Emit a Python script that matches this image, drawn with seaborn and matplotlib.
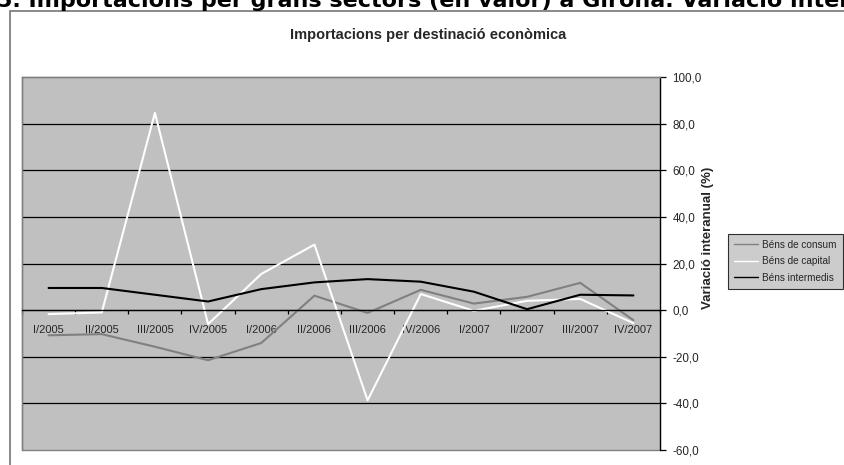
import pandas as pd
import numpy as np
import matplotlib
matplotlib.use("Agg")
import matplotlib.pyplot as plt
from matplotlib.patches import Rectangle
from matplotlib.ticker import FuncFormatter
import seaborn as sns

# values (variacio interanual, %)
quarters = ["I/2005", "II/2005", "III/2005", "IV/2005",
            "I/2006", "II/2006", "III/2006", "IV/2006",
            "I/2007", "II/2007", "III/2007", "IV/2007"]
bens_consum = [-10.8, -10.3, -15.7, -21.5, -14.1, 6.2, -1.2, 8.7, 2.8, 5.7, 11.7, -4.3]
bens_capital = [-1.7, -1.0, 84.6, -6.0, 15.5, 28.1, -38.7, 6.9, -0.3, 4.0, 4.8, -5.6]
bens_intermedis = [9.5, 9.5, 6.6, 3.7, 9.0, 11.9, 13.3, 12.2, 7.9, 0.4, 6.6, 6.3]
series_names = ["Béns de consum", "Béns de capital", "Béns intermedis"]
y_ticks = [-60, -40, -20, 0, 20, 40, 60, 80, 100]

sns.set_theme(style="white")
plt.rcParams["font.family"] = ["Liberation Sans", "DejaVu Sans"]

# long-form table for seaborn
rows = []
for name, vals in zip(series_names, [bens_consum, bens_capital, bens_intermedis]):
    for i, v in enumerate(vals):
        rows.append({"pos": i, "trimestre": quarters[i], "serie": name, "valor": v})
df = pd.DataFrame(rows)

palette = {"Béns de consum": "#808080",
           "Béns de capital": "#ffffff",
           "Béns intermedis": "#000000"}

W, H = 845, 465
fig = plt.figure(figsize=(W / 100, H / 100), dpi=100)
fig.patch.set_facecolor("white")

# outer chart frame (runs past the right and bottom edges)
fig.add_artist(Rectangle((10 / W, -0.05), 1.0, 1 - 11 / H + 0.05,
                         transform=fig.transFigure, fill=False,
                         edgecolor="#808080", linewidth=1.3))

# page heading, cut off at the top like in the source page
fig.text(-3 / W, 1 - 7 / H,
         "5. Importacions per grans sectors (en valor) a Girona. Variació interanual",
         fontsize=16, fontweight="bold", family="DejaVu Sans",
         ha="left", va="baseline", color="black")

fig.text(428 / W, 1 - 35 / H, "Importacions per destinació econòmica",
         fontsize=10.5, fontweight="bold", ha="center", va="center")

ax = fig.add_axes([22 / W, 1 - 450 / H, (660 - 22) / W, (450 - 77) / H])
ax.set_facecolor("#c0c0c0")

sns.lineplot(data=df, x="pos", y="valor", hue="serie", palette=palette,
             hue_order=series_names, sort=False, linewidth=1.5, ax=ax)

ax.set_xlim(-0.5, len(quarters) - 0.5)
ax.set_ylim(-60, 100)

# y axis on the right
ax.yaxis.tick_right()
ax.set_yticks(y_ticks)
ax.yaxis.set_major_formatter(FuncFormatter(lambda v, p: f"{v:.1f}".replace(".", ",")))
ax.tick_params(axis="y", which="major", direction="out", length=4, width=0.9,
               color="black", labelsize=8.4, pad=5, right=True, left=False)
ax.grid(axis="y", color="black", linewidth=0.9)
gl = ax.get_ygridlines()
gl[0].set_visible(False)
gl[-1].set_visible(False)

# category axis crossing at zero
ax.set_xticks(range(len(quarters)))
ax.set_xticklabels(quarters)
ax.set_xticks(np.arange(-0.5, len(quarters), 1.0), minor=True)
ax.tick_params(axis="x", which="major", length=0, labelsize=8, pad=10.5)
ax.tick_params(axis="x", which="minor", direction="out", length=3, width=0.9,
               color="black", bottom=True)

for side in ["left", "top"]:
    ax.spines[side].set_color("#808080")
    ax.spines[side].set_linewidth(1.0)
ax.spines["right"].set_color("black")
ax.spines["right"].set_linewidth(0.9)
ax.spines["bottom"].set_position(("data", 0))
ax.spines["bottom"].set_color("black")
ax.spines["bottom"].set_linewidth(0.9)
# bottom border of plot area
ax.add_patch(Rectangle((0, 0), 1, 1, transform=ax.transAxes, fill=False,
                       edgecolor="#808080", linewidth=1.0, zorder=0.5, clip_on=False))

ax.set_xlabel("")
ax.set_ylabel("")
fig.text(708 / W, 1 - 238 / H, "Variació interanual (%)", rotation=90,
         fontsize=9.5, fontweight="bold", ha="center", va="center")

leg = ax.legend(loc="upper right", bbox_to_anchor=(843 / W, 1 - 234 / H),
                bbox_transform=fig.transFigure, fontsize=7.2, frameon=True,
                fancybox=False, handlelength=2.4, handletextpad=0.4,
                borderpad=0.6, labelspacing=0.65, borderaxespad=0)
leg.get_frame().set_facecolor("#c0c0c0")
leg.get_frame().set_edgecolor("black")
leg.get_frame().set_linewidth(0.8)
for line in leg.get_lines():
    line.set_linewidth(1.0)

fig.savefig("out.png", dpi=100)
